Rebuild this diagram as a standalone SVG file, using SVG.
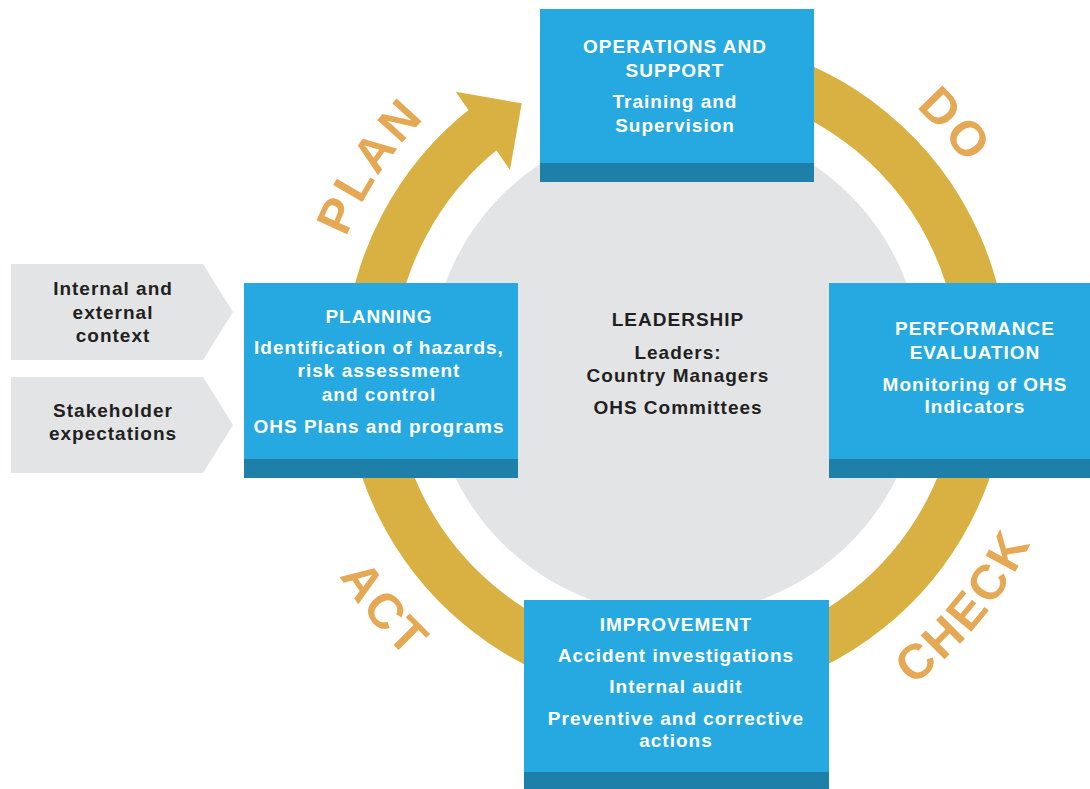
<svg xmlns="http://www.w3.org/2000/svg" width="1090" height="789" viewBox="0 0 1090 789">
  <style>
    .box { fill: #26A9E0; }
    .band { fill: #1E7FA9; }
    .in { fill: #E3E4E6; }
    .wt { font-family: "Liberation Sans", Arial, sans-serif; font-weight: bold; font-size: 19px; fill: #FFFFFF; text-anchor: middle; letter-spacing: 1px; }
    .dk { font-family: "Liberation Sans", Arial, sans-serif; font-weight: bold; font-size: 19px; fill: #231F20; text-anchor: middle; letter-spacing: 1px; }
    .cyc { font-family: "Liberation Sans", Arial, sans-serif; font-weight: bold; font-size: 49px; fill: #E5A955; text-anchor: middle; letter-spacing: 3px; }
  </style>
  <defs>
    <path id="cw" d="M 321 369 A 355 355 0 1 1 1031 369 A 355 355 0 1 1 321 369"/>
    <path id="ccw" d="M 281 369 A 395 395 0 1 0 1071 369 A 395 395 0 1 0 281 369"/>
  </defs>
  <rect width="1090" height="789" fill="#FFFFFF"/>

  <g id="center-circle">
    <circle cx="676" cy="369" r="246" fill="#E3E4E6"/>
  </g>

  <g id="connectors">
    <path d="M 755.6 72 A 307.5 307.5 0 1 1 486.7 126.7" fill="none" stroke="#D9B042" stroke-width="49"/>
    <polygon points="455.7,91.7 521.7,103.3 510,170" fill="#D9B042"/>
  </g>

  <g id="cycle-labels">
    <text class="cyc"><textPath href="#cw" startOffset="207.5">PLAN</textPath></text>
    <text class="cyc"><textPath href="#cw" startOffset="860">DO</textPath></text>
    <text class="cyc"><textPath href="#ccw" startOffset="968">CHECK</textPath></text>
    <text class="cyc"><textPath href="#ccw" startOffset="272.3">ACT</textPath></text>
  </g>

  <g id="leadership">
    <text class="dk" x="678" y="326">LEADERSHIP</text>
    <text class="dk" x="678" y="359">Leaders:</text>
    <text class="dk" x="678" y="382">Country Managers</text>
    <text class="dk" x="678" y="414">OHS Committees</text>
  </g>

  <g id="operations">
    <rect class="box" x="540" y="9" width="274" height="173"/>
    <rect class="band" x="540" y="163" width="274" height="19"/>
    <text class="wt" x="675" y="53">OPERATIONS AND</text>
    <text class="wt" x="675" y="77">SUPPORT</text>
    <text class="wt" x="675" y="108">Training and</text>
    <text class="wt" x="675" y="132">Supervision</text>
  </g>

  <g id="planning">
    <rect class="box" x="244" y="283" width="274" height="195"/>
    <rect class="band" x="244" y="459" width="274" height="19"/>
    <text class="wt" x="379" y="323">PLANNING</text>
    <text class="wt" x="379" y="354">Identification of hazards,</text>
    <text class="wt" x="379" y="377">risk assessment</text>
    <text class="wt" x="379" y="401">and control</text>
    <text class="wt" x="379" y="433">OHS Plans and programs</text>
  </g>

  <g id="performance">
    <rect class="box" x="829" y="283" width="261" height="195"/>
    <rect class="band" x="829" y="459" width="261" height="19"/>
    <text class="wt" x="975" y="335">PERFORMANCE</text>
    <text class="wt" x="975" y="359">EVALUATION</text>
    <text class="wt" x="975" y="391">Monitoring of OHS</text>
    <text class="wt" x="975" y="413">Indicators</text>
  </g>

  <g id="improvement">
    <rect class="box" x="524" y="600" width="305" height="189"/>
    <rect class="band" x="524" y="772" width="305" height="17"/>
    <text class="wt" x="676" y="631">IMPROVEMENT</text>
    <text class="wt" x="676" y="662">Accident investigations</text>
    <text class="wt" x="676" y="693">Internal audit</text>
    <text class="wt" x="676" y="725">Preventive and corrective</text>
    <text class="wt" x="676" y="747">actions</text>
  </g>

  <g id="input-context">
    <polygon class="in" points="11,264 203,264 233,312 203,360 11,360"/>
    <text class="dk" x="113" y="295">Internal and</text>
    <text class="dk" x="113" y="319">external</text>
    <text class="dk" x="113" y="342">context</text>
  </g>

  <g id="input-stakeholder">
    <polygon class="in" points="11,377 203,377 233,425 203,473 11,473"/>
    <text class="dk" x="113" y="416.5">Stakeholder</text>
    <text class="dk" x="113" y="440">expectations</text>
  </g>
</svg>
